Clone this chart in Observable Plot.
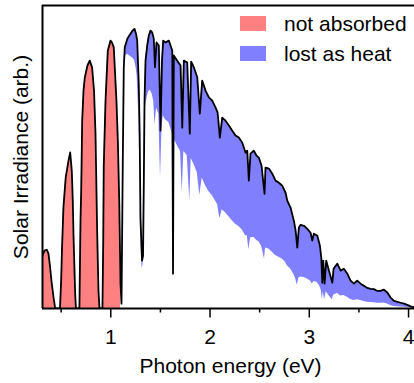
<!DOCTYPE html>
<html><head><meta charset="utf-8">
<script src="https://cdn.jsdelivr.net/npm/d3@7"></script>
<script src="https://cdn.jsdelivr.net/npm/@observablehq/plot@0.6"></script>
<style>body{margin:0;background:#fff;}</style>
</head><body><div id="chart"></div>
<script>
const bandGap = 1.1;
// photon energy (eV)
const energy = [
  0.312, 0.332, 0.355, 0.372, 0.387, 0.402, 0.422, 0.440,
  0.488,
  0.500, 0.508, 0.523, 0.546, 0.574, 0.591, 0.607, 0.617, 0.624, 0.641, 0.649,
  0.684,
  0.695, 0.702, 0.712, 0.725, 0.738, 0.765, 0.788, 0.812, 0.831, 0.846, 0.863, 0.876, 0.886,
  0.916,
  0.924, 0.929, 0.947, 0.970, 0.997, 1.012, 1.030, 1.057, 1.071, 1.085, 1.098, 1.108,
  1.121, 1.131, 1.141, 1.168, 1.199, 1.219, 1.239, 1.254, 1.266, 1.282,
  1.291, 1.299, 1.315, 1.325, 1.333, 1.340, 1.350, 1.367, 1.383, 1.400,
  1.417, 1.433, 1.445, 1.461, 1.484, 1.501, 1.516, 1.528, 1.551, 1.585,
  1.602, 1.619, 1.627, 1.635, 1.669, 1.703, 1.720, 1.736, 1.770, 1.796,
  1.810, 1.837, 1.871, 1.897, 1.921, 1.955, 1.988, 2.022, 2.055, 2.076,
  2.099, 2.123, 2.156, 2.190, 2.224, 2.257, 2.290, 2.325, 2.358, 2.375,
  2.391, 2.408, 2.441, 2.469, 2.492, 2.519, 2.549, 2.559, 2.593, 2.627,
  2.660, 2.694, 2.728, 2.761, 2.778, 2.812, 2.845, 2.862, 2.879, 2.895,
  2.912, 2.946, 2.980, 3.013, 3.030, 3.046, 3.081, 3.107, 3.121, 3.131,
  3.141, 3.154, 3.171, 3.198, 3.232, 3.245, 3.282, 3.316, 3.349, 3.383,
  3.416, 3.450, 3.483, 3.517, 3.550, 3.584, 3.617, 3.651, 3.685, 3.718,
  3.752, 3.786, 3.819, 3.853, 3.887, 3.920, 3.954, 3.988, 4.021, 4.055
];
// solar irradiance (arb.)
const irradiance = [
  17.4, 19.1, 19.4, 18.1, 14.1, 9.2, 3.9, 0,
  0,
  9.2, 19.1, 33.4, 43.3, 48.8, 51.5, 45.5, 35.6, 24.7, 4.9, 0,
  0,
  29, 38.9, 62, 71.8, 76.2, 80.2, 81.8, 79.5, 71.9, 57.7, 24.7, 5.8, 0,
  0,
  22.4, 46.6, 68.6, 85.1, 88.4, 87.8, 86.2, 68.6, 55.4, 35.6, 8.2, 1.6,
  48.8, 79.6, 86.2, 89.1, 90.7, 91.7, 92.3, 90.7, 88.4, 74.2,
  57.7, 30.1, 15.8, 17.4, 42.2, 68.6, 81.8, 86.8, 90.1, 91.7,
  91.1, 89.1, 79.6, 87.8, 86.8, 58.7, 81.8, 88.4, 87.8, 88.4,
  86.8, 85.1, 11.5, 83.5, 81.8, 80.2, 59.7, 81.8, 81.2, 57.7,
  81.5, 79.6, 76.3, 64.3, 75.2, 71.9, 69.7, 68.6, 66.4, 64.7,
  56.4, 63.0, 62.0, 60.4, 58.7, 57.1, 56.4, 54.7, 51.4, 52.1,
  42.2, 51.1, 52.1, 50.4, 49.8, 47.1, 37.8, 46.5, 46.2, 44.5,
  42.2, 41.5, 40.5, 38.2, 35.6, 33.2, 28.9, 25.7, 20.1, 26.7,
  27.6, 27.3, 26.3, 25.0, 22.4, 24.7, 24.0, 20.7, 16.7, 8.5,
  15.8, 8.2, 15.8, 12.5, 8.5, 13.1, 14.8, 12.5, 13.1, 11.5,
  9.2, 8.2, 9.2, 8.2, 7.5, 6.8, 6.5, 6.4, 5.8, 5.8,
  6.2, 5.3, 3.6, 2.5, 2.2, 1.9, 1.6, 1.2, 0.7, 0.4
];
// usable part (lower edge of the "lost as heat" band, arb.)
const usable = [
  0, 0, 0, 0, 0, 0, 0, 0,
  0,
  0, 0, 0, 0, 0, 0, 0, 0, 0, 0, 0,
  0,
  0, 0, 0, 0, 0, 0, 0, 0, 0, 0, 0, 0, 0,
  0,
  0, 0, 0, 0, 0, 0, 0, 0, 0, 0, 0, 1.6,
  47.9, 77.4, 83.1, 83.9, 83.2, 82.7, 81.9, 79.6, 76.8, 63.7,
  49.2, 25.5, 13.2, 14.4, 34.8, 56.3, 66.7, 69.8, 71.7, 72.0,
  70.7, 68.4, 60.6, 66.1, 64.3, 43.0, 59.4, 63.6, 62.3, 61.4,
  59.6, 57.8, 7.8, 56.2, 53.9, 51.8, 38.2, 51.8, 50.5, 35.3,
  49.5, 47.7, 44.9, 37.3, 43.1, 40.5, 38.6, 37.3, 35.5, 34.3,
  29.6, 32.6, 31.6, 30.3, 29.0, 27.8, 27.1, 25.9, 24.0, 24.1,
  19.4, 23.3, 23.5, 22.5, 22.0, 20.6, 16.3, 20.0, 19.6, 18.6,
  17.5, 16.9, 16.3, 15.2, 14.1, 13.0, 11.2, 9.9, 7.7, 10.1,
  10.4, 10.2, 9.7, 9.1, 8.1, 8.9, 8.6, 7.3, 5.9, 3.0,
  5.5, 2.9, 5.5, 4.3, 2.9, 4.4, 5.0, 4.1, 4.3, 3.7,
  3.0, 2.6, 2.9, 2.6, 2.3, 2.1, 2.0, 1.9, 1.7, 1.7,
  1.8, 1.5, 1.0, 0.7, 0.6, 0.5, 0.4, 0.3, 0.2, 0.1
];
const xTicks = [1, 2, 3, 4];
const xMinorTicks = [0.5, 1.5, 2.5, 3.5];
const legendLabels = ["not absorbed", "lost as heat"];
const legendColors = ["#ff8080", "#8080ff"];
const xLabel = "Photon energy (eV)";
const yLabel = "Solar Irradiance (arb.)";

const n = Math.min(energy.length, irradiance.length, usable.length);
const data = d3.range(n).map(i => ({e: energy[i], s: irradiance[i], u: usable[i]}));
const below = data.filter(d => d.e < bandGap);
const above = data.filter(d => d.e >= bandGap);

const font = "'Liberation Sans', Arial, Helvetica, sans-serif";
const plot = Plot.plot({
  width: 414, height: 383,
  marginLeft: 42, marginRight: 0, marginTop: 5, marginBottom: 75,
  style: {fontFamily: font, fontSize: "21px", background: "white", color: "black", overflow: "visible"},
  x: {domain: [0.312, 4.06], label: null},
  y: {domain: [0, 100], axis: null, label: null},
  marks: [
    Plot.areaY(below, {x: "e", y: "s", fill: legendColors[0], clip: true}),
    Plot.areaY(above, {x: "e", y1: "u", y2: "s", fill: legendColors[1], clip: true}),
    Plot.line(data, {x: "e", y: "s", stroke: "black", strokeWidth: 1.8, strokeLinejoin: "round", clip: true}),
    Plot.ruleY([0, 100], {stroke: "black", strokeWidth: 2}),
    Plot.ruleX([0.312], {stroke: "black", strokeWidth: 2}),
    Plot.axisX(xMinorTicks, {tickSize: 4.5, tickFormat: () => "", strokeWidth: 1.5, label: null}),
    Plot.axisX(xTicks, {tickSize: 9.5, tickPadding: 11, tickFormat: d => String(d), strokeWidth: 1.5, label: null, fontSize: 21}),
    Plot.text([xLabel], {frameAnchor: "bottom", textAnchor: "middle", dx: 2, dy: 64, lineAnchor: "bottom", fontSize: 21}),
    Plot.text([yLabel], {frameAnchor: "left", textAnchor: "middle", dx: -15, rotate: -90, lineAnchor: "bottom", fontSize: 21})
  ]
});

const svg = d3.select(plot);
legendLabels.forEach((label, i) => {
  svg.append("rect").attr("x", 240).attr("y", 16 + 30 * i).attr("width", 26).attr("height", 15).attr("fill", legendColors[i]);
  svg.append("text").attr("x", 284).attr("y", 31 + 30 * i).attr("text-anchor", "start")
    .attr("font-size", 21).attr("font-family", font).attr("fill", "black").text(label);
});
document.getElementById("chart").appendChild(plot);
</script>
</body></html>
